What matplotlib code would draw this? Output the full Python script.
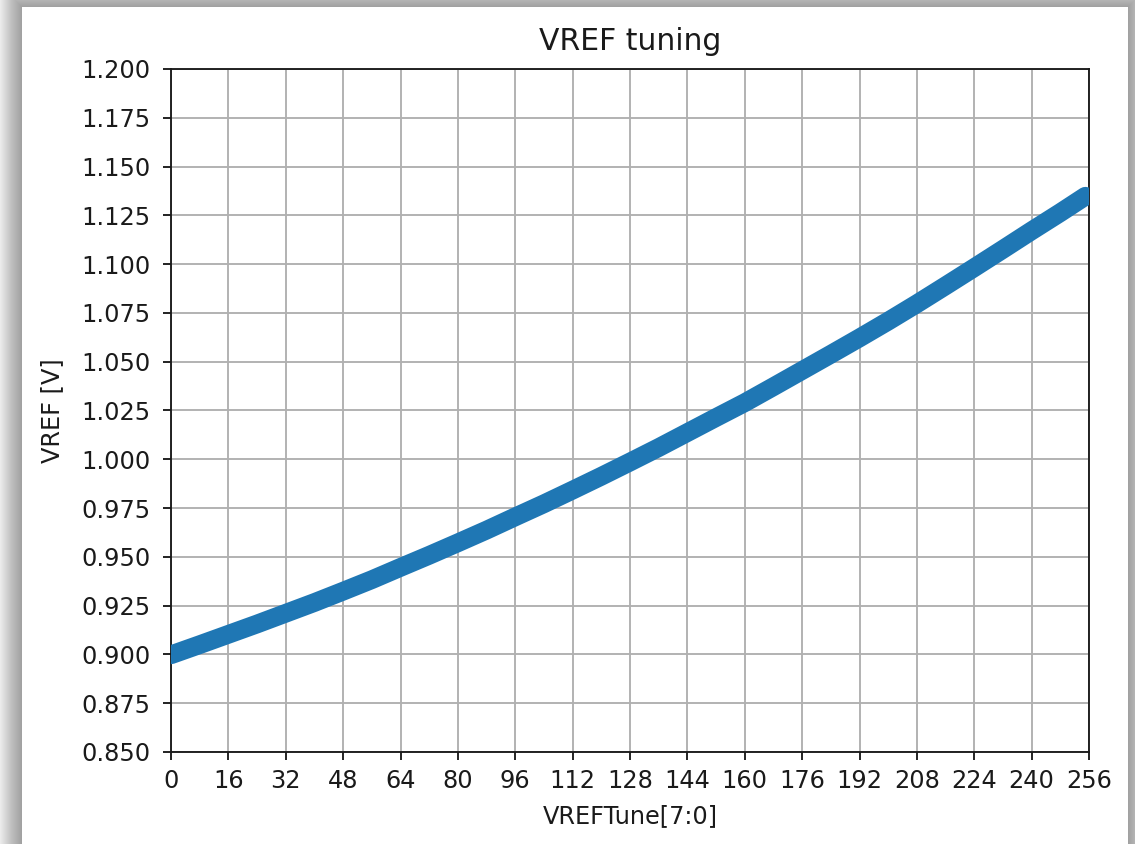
import matplotlib
matplotlib.use("Agg")
import matplotlib.pyplot as plt
from matplotlib.patches import Rectangle

# Data
codes = [0, 8, 16, 24, 32, 40, 48, 56, 64, 72, 80, 88, 96, 104, 112, 120,
         128, 136, 144, 152, 160, 168, 176, 184, 192, 200, 208, 216, 224,
         232, 240, 248, 255]
vref = [0.8998, 0.9050, 0.9103, 0.9156, 0.9211, 0.9266, 0.9324, 0.9383,
        0.9446, 0.9508, 0.9572, 0.9637, 0.9705, 0.9772, 0.9842, 0.9913,
        0.9986, 1.0060, 1.0137, 1.0214, 1.0290, 1.0372, 1.0455, 1.0538,
        1.0622, 1.0708, 1.0797, 1.0889, 1.0982, 1.1076, 1.1171, 1.1264,
        1.1348]
xticks = list(range(0, 257, 16))
yticks = [0.850, 0.875, 0.900, 0.925, 0.950, 0.975, 1.000, 1.025, 1.050,
          1.075, 1.100, 1.125, 1.150, 1.175, 1.200]
title = "VREF tuning"
xlabel = "VREFTune[7:0]"
ylabel = "VREF [V]"

W, H = 1135, 844
fig = plt.figure(figsize=(W / 100, H / 100), dpi=100, facecolor="#f3f3f3")

# drop-shadow frame of the screenshot
x0, x1 = 22 / W, 1128 / W
ytop = 1 - 7 / H
for i in range(1, 24):
    dx = i / W
    dy = i / H
    fig.patches.append(Rectangle((x0 - dx, -0.1), (x1 - x0) + 2 * dx, ytop + 0.1 + dy,
                                 transform=fig.transFigure, facecolor="black",
                                 alpha=0.014, edgecolor="none", zorder=-10))
fig.patches.append(Rectangle((x0, -0.1), x1 - x0, ytop + 0.1,
                             transform=fig.transFigure, facecolor="white",
                             edgecolor="none", zorder=-5))

ax = fig.add_axes([171 / W, 1 - 752 / H, (1089 - 171) / W, (752 - 69) / H])
ax.set_facecolor("white")

ax.plot(codes, vref, color="#1f77b4", lw=13.5, solid_capstyle="round",
        solid_joinstyle="round", zorder=3)

ax.set_xlim(0, 256)
ax.set_ylim(0.85, 1.2)
ax.set_xticks(xticks)
ax.set_yticks(yticks)
ax.set_yticklabels([f"{v:.3f}" for v in yticks])
ax.grid(True, color="#b0b0b0", lw=1.35)
ax.set_axisbelow(True)

fs = 17.3
ax.tick_params(labelsize=fs, length=6, width=1.35, colors="#1a1a1a")
ax.tick_params(axis="y", pad=9)
ax.tick_params(axis="x", pad=6)
for s in ax.spines.values():
    s.set_linewidth(1.35)
    s.set_color("#1a1a1a")
ax.set_title(title, fontsize=21.5, color="#1a1a1a", pad=14)
ax.set_xlabel(xlabel, fontsize=fs, color="#1a1a1a", labelpad=8)
ax.set_ylabel(ylabel, fontsize=fs, color="#1a1a1a", labelpad=12)

fig.savefig("out.png", dpi=100, facecolor=fig.get_facecolor())
